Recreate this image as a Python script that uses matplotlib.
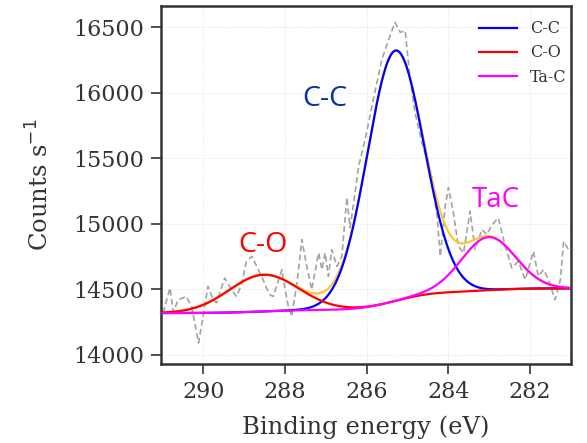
import numpy as np
import matplotlib.pyplot as plt

energy = [290.99, 290.82, 290.74, 290.62, 290.42, 290.29, 290.12, 289.89, 289.76,
          289.68, 289.48, 289.31, 289.19, 289.07, 288.95, 288.81, 288.66, 288.54,
          288.46, 288.37, 288.29, 288.20, 288.08, 288.00, 287.93, 287.84, 287.71,
          287.59, 287.47, 287.35, 287.18, 287.10, 287.02, 286.94, 286.86, 286.73,
          286.61, 286.49, 286.41, 286.31, 286.20, 286.04, 285.84, 285.63, 285.43,
          285.31, 285.18, 285.06, 284.94, 284.82, 284.65, 284.53, 284.41, 284.28,
          284.20, 284.08, 284.00, 283.88, 283.76, 283.63, 283.47, 283.35, 283.18,
          283.06, 282.93, 282.78, 282.61, 282.45, 282.29, 282.12, 281.92, 281.80,
          281.67, 281.55, 281.39, 281.26, 281.18, 281.06, 281.00]
counts = [14322, 14511, 14329, 14421, 14446, 14370, 14092, 14523, 14421,
          14398, 14587, 14498, 14446, 14536, 14714, 14753, 14651, 14574,
          14513, 14459, 14446, 14536, 14651, 14498, 14383, 14293, 14549,
          14880, 14676, 14498, 14779, 14651, 14779, 14600, 14804, 14676,
          14753, 15202, 14972, 15186, 15441, 15645, 15951, 16257, 16436,
          16538, 16462, 16474, 16104, 15850, 15620, 15492, 15365, 15059,
          14753, 15135, 15278, 15085, 14829, 14779, 15097, 14804, 14957,
          14919, 14995, 15046, 14829, 14664, 14714, 14574, 14791, 14600,
          14651, 14574, 14421, 14574, 14867, 14804, 14788]

# fitted components
names = ['C-C', 'C-O', 'Ta-C']
centers = [285.30, 288.53, 283.02]
amplitudes = [1910, 280, 405]
fwhms = [1.63, 2.0, 1.55]
colors = ['blue', 'red', 'magenta']
bg_low, bg_high = 14320, 14508

E = np.linspace(291.0, 281.0, 600)
peaks = [a * np.exp(-4 * np.log(2) * ((E - c) / w) ** 2)
         for c, a, w in zip(centers, amplitudes, fwhms)]
total = np.sum(peaks, axis=0)
# Shirley-type step background
area = np.concatenate([[0], np.cumsum((total[1:] + total[:-1]) / 2)])
bg = bg_low + (bg_high - bg_low) * area / area[-1]

fig = plt.figure(figsize=(5.87, 4.43), dpi=100)
ax = fig.add_axes([0.2743, 0.1783, 0.6984, 0.8082])

ax.plot(energy, counts, color='#a3a3a3', linestyle=(0, (3.5, 2)), linewidth=1.2, zorder=1)
ax.plot(E, bg + total, color='#f7c934', linewidth=1.6, zorder=2)
for p, name, col in zip(peaks, names, colors):
    ax.plot(E, bg + p, color=col, linewidth=1.6, label=name, zorder=3)

ax.text(287.02, 15951, 'C-C', color='#0b2db4', fontsize=20.5, family='Open Sans',
        ha='center', va='center')
ax.text(288.54, 14842, 'C-O', color='red', fontsize=20.5, family='Open Sans',
        ha='center', va='center')
ax.text(282.84, 15179, 'TaC', color='magenta', fontsize=20, family='Open Sans',
        ha='center', va='center')

ax.set_xlim(291.04, 281.0)
ax.set_ylim(13931, 16663)
ax.set_xticks([290, 288, 286, 284, 282])
ax.set_yticks([14000, 14500, 15000, 15500, 16000, 16500])
ax.grid(True, linestyle=':', linewidth=0.6, color='#dddddd')
ax.set_axisbelow(True)

for s in ax.spines.values():
    s.set_color('#333333')
    s.set_linewidth(1.8)
ax.tick_params(direction='out', length=7.5, width=1.2, color='#333333', pad=4.5,
               labelsize=16, labelcolor='#333333')
for lab in ax.get_xticklabels() + ax.get_yticklabels():
    lab.set_family('DejaVu Serif')

ax.set_xlabel('Binding energy (eV)', fontsize=17.5, family='DejaVu Serif',
              color='#333333', labelpad=9)
ax.set_ylabel('Counts s$^{-1}$', fontsize=17.5, family='DejaVu Serif',
              color='#333333', labelpad=14)

leg = ax.legend(loc='upper right', bbox_to_anchor=(0.99, 0.96), frameon=False,
                prop={'family': 'DejaVu Serif', 'size': 11.5},
                handlelength=2.4, labelspacing=0.45, borderaxespad=0, borderpad=0)
for t in leg.get_texts():
    t.set_color('#333333')

fig.savefig('out.png', dpi=100)
